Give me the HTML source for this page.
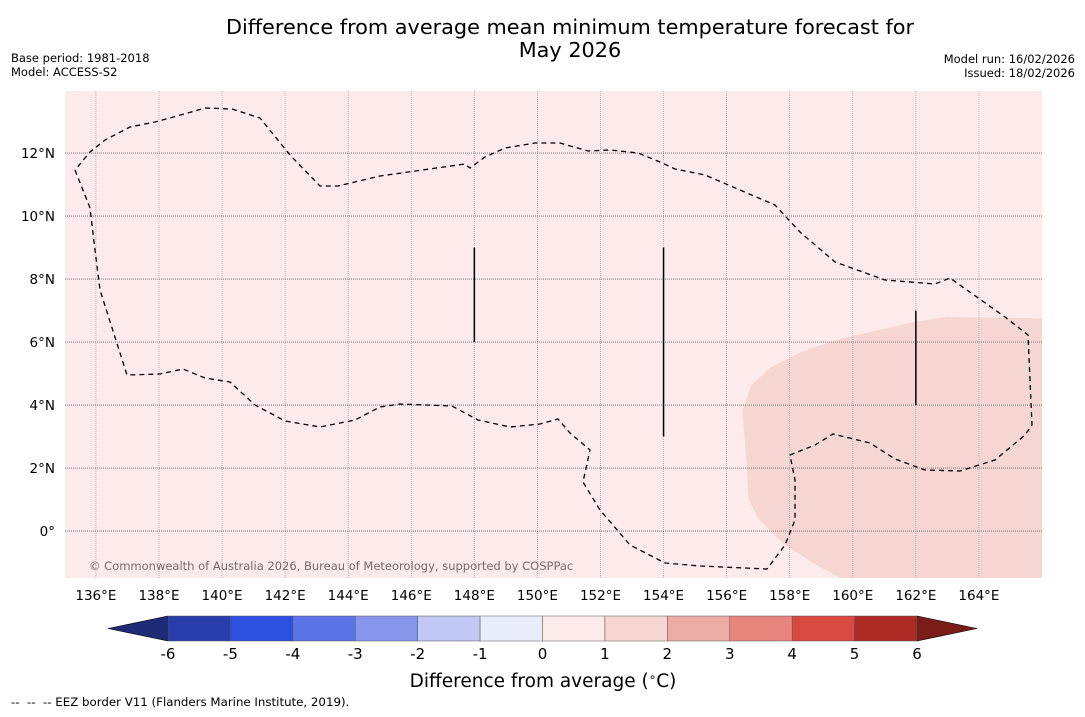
<!DOCTYPE html>
<html><head><meta charset="utf-8"><style>
body{margin:0;background:#fff;width:1085px;height:713px;overflow:hidden;font-family:"DejaVu Sans","Liberation Sans",sans-serif}
</style></head><body>
<svg width="1085" height="713" xmlns="http://www.w3.org/2000/svg">
<text x="570" y="34" font-size="20.8" text-anchor="middle" fill="#000">Difference from average mean minimum temperature forecast for</text>
<text x="570" y="57" font-size="20.8" text-anchor="middle" fill="#000">May 2026</text>
<text x="11" y="62" font-size="11.5">Base period: 1981-2018</text>
<text x="11" y="76" font-size="11.5">Model: ACCESS-S2</text>
<text x="1075" y="63" font-size="11.5" text-anchor="end">Model run: 16/02/2026</text>
<text x="1075" y="77" font-size="11.5" text-anchor="end">Issued: 18/02/2026</text>
<g id="map"></g>
<g id="cbar"></g>
<text x="543" y="687" font-size="18.5" text-anchor="middle">Difference from average (<tspan font-size="12" dy="-6">∘</tspan><tspan dy="6">C)</tspan></text>
<text x="11" y="706" font-size="11.8" xml:space="preserve">--  --  -- EEZ border V11 (Flanders Marine Institute, 2019).</text>
</svg>
<script>
const lonTicks=[136,138,140,142,144,146,148,150,152,154,156,158,160,162,164];
const latTicks=[12,10,8,6,4,2,0];
const cbLevels=[-6,-5,-4,-3,-2,-1,0,1,2,3,4,5,6];
const cbColors=["#2a3dac","#2d4fe0","#5a73e6","#8796eb","#c1c8f3","#e9ecfb","#fcebea","#f5d6d2","#ecaca6","#e6857e","#d84a41","#ac2b25"];
const anomalyLevel=1.5;
const ns="http://www.w3.org/2000/svg";
const X0=65,X1=1042,Y0=91,Y1=578;
const lonMin=135.02,lonMax=166.0,latMin=-1.49,latMax=13.97;
const xs=l=>X0+(l-lonMin)/(lonMax-lonMin)*(X1-X0);
const ys=l=>Y1-(l-latMin)/(latMax-latMin)*(Y1-Y0);
function mk(p,t,a){const e=document.createElementNS(ns,t);for(const k in a)e.setAttribute(k,a[k]);p.appendChild(e);return e;}
function colorFor(v){for(let i=0;i<cbColors.length;i++){if(v<cbLevels[i+1])return cbColors[i];}return cbColors[cbColors.length-1];}
const map=document.getElementById('map');
let r=mk(map,'rect',{x:X0,y:Y0,width:X1-X0,height:Y1-Y0,fill:colorFor(0.5)});


const regionLon=[166,163.0,162.0,160.9,159.6,158.4,157.4,156.8,156.5,156.6,156.7,157.0,157.8,158.8,159.6,166];
const regionLat=[6.75,6.8,6.65,6.4,6.1,5.7,5.2,4.65,3.85,2.6,1.0,0.4,-0.4,-1.05,-1.49,-1.49];
let pr=mk(map,'polygon',{points:regionLon.map((l,i)=>xs(l)+','+ys(regionLat[i])).join(' '),fill:colorFor(anomalyLevel)});


lonTicks.forEach(l=>{const x=xs(l);
 let g=mk(map,'line',{x1:x,x2:x,y1:Y0,y2:Y1,stroke:'#aaa',"stroke-width":0.8,"stroke-dasharray":"1,1"});
 
 
 let t=mk(map,'text',{x:x,y:600,"font-size":13.5,"text-anchor":"middle"});t.textContent=l+'°E';
 
 });
latTicks.forEach(l=>{const y=ys(l);
 let g=mk(map,'line',{x1:X0,x2:X1,y1:y,y2:y,stroke:'#666',"stroke-width":0.8,"stroke-dasharray":"1,1"});
 
 
 let t=mk(map,'text',{x:55,y:y+5,"font-size":13.5,"text-anchor":"end"});t.textContent=l+'°'+(l>0?'N':'');
 
 });
const eez=[[75,170],[90,208],[95,250],[100,290],[127,375],[160,374],[183,369],[205,378],[230,382],[255,405],[285,421],[320,427],[355,420],[380,407],[400,404],[452,406],[478,420],[510,427],[540,424],[558,419],[570,433],[590,450],[583,482],[600,510],[630,545],[665,563],[700,566],[767,569],[785,545],[795,520],[795,480],[790,455],[815,445],[833,434],[870,443],[895,459],[925,470],[960,471],[995,460],[1025,435],[1032,425],[1028,335],[1005,317],[950,278],[935,284],[885,280],[835,262],[800,232],[775,205],[740,190],[705,175],[675,169],[660,162],[638,153],[610,150],[588,151],[560,143],[535,143],[505,148],[485,157],[470,168],[465,164],[380,176],[338,186],[320,186],[290,155],[260,118],[232,109],[205,108],[170,118],[155,122],[130,127],[105,140],[90,152],[75,170]];
let ep=mk(map,'polyline',{points:eez.map(p=>p.join(',')).join(' '),fill:'none',stroke:'#000',"stroke-width":1.3,"stroke-dasharray":"5,4"});


[[148,9,6],[154,9,3],[162,7,4]].forEach(s=>{let l=mk(map,'line',{x1:xs(s[0]),x2:xs(s[0]),y1:ys(s[1]),y2:ys(s[2]),stroke:'#000',"stroke-width":1.5});
 
 });
let cp=mk(map,'text',{x:89,y:570,"font-size":11.5,fill:'#7a6a6a'});cp.textContent='© Commonwealth of Australia 2026, Bureau of Meteorology, supported by COSPPac';


const cb=document.getElementById('cbar');
const CX0=168,CX1=917,CY=616,CH=25;
const cx=v=>CX0+(v-cbLevels[0])/(cbLevels[cbLevels.length-1]-cbLevels[0])*(CX1-CX0);
let lt=mk(cb,'polygon',{points:`108,${CY+CH/2} ${CX0},${CY} ${CX0},${CY+CH}`,fill:'#1e2c78',stroke:'#000',"stroke-width":0.6});


let rt=mk(cb,'polygon',{points:`977,${CY+CH/2} ${CX1},${CY} ${CX1},${CY+CH}`,fill:'#7a1d19',stroke:'#000',"stroke-width":0.6});


cbColors.forEach((c,i)=>{let b=mk(cb,'rect',{x:cx(cbLevels[i]),y:CY,width:cx(cbLevels[i+1])-cx(cbLevels[i]),height:CH,fill:c,stroke:'#555',"stroke-width":0.5});
 
 });
cbLevels.forEach(v=>{let t=mk(cb,'text',{x:cx(v),y:659,"font-size":15,"text-anchor":"middle"});t.textContent=v;
 
 });
</script>
</body></html>
